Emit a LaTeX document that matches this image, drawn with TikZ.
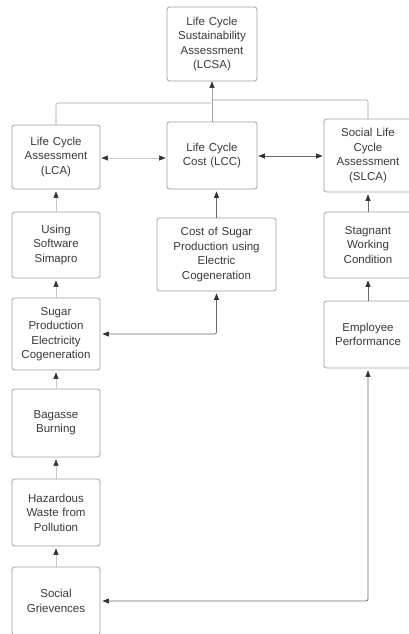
\documentclass[tikz,border=0pt]{standalone}
\usepackage{fontspec}
\setmainfont{Liberation Sans}
\usetikzlibrary{arrows.meta}
\definecolor{boxline}{HTML}{A0A0A0}
\definecolor{txt}{HTML}{3A3A3A}
\definecolor{conn}{HTML}{6A6A6A}
\definecolor{faint}{HTML}{C8C8C8}
\definecolor{tip}{HTML}{333333}
\begin{document}
\begin{tikzpicture}[x=1pt,y=-1pt,
  box/.style={draw=boxline, line width=0.8pt, rounded corners=2.5pt, fill=white,
    text=txt, align=center, inner sep=2pt,
    font=\fontsize{11.5}{14.4}\selectfont},
  hd/.style={-{Triangle[length=6.5pt,width=5pt,color=tip]}},
  dhd/.style={{Triangle[length=6.5pt,width=5pt,color=tip]}-{Triangle[length=6.5pt,width=5pt,color=tip]}},
  link/.style={draw=conn, line width=0.7pt, rounded corners=2pt},
  lite/.style={draw=faint, line width=0.6pt},
]
\useasboundingbox (0,0) rectangle (409,634);
\begin{scope}
\clip (0,0) rectangle (409,634);
\node[box, minimum width=90pt, minimum height=74pt, text width=86pt] (lcsa) at (212,44) {Life Cycle\\Sustainability\\Assessment\\(LCSA)};
\node[box, minimum width=88pt, minimum height=64pt, text width=84pt] (lca) at (56,157) {Life Cycle\\Assessment\\(LCA)};
\node[box, minimum width=90pt, minimum height=67pt, text width=86pt] (lcc) at (212,155.5) {Life Cycle\\Cost (LCC)};
\node[box, minimum width=88pt, minimum height=73pt, text width=84pt] (slca) at (368,155.5) {Social Life\\Cycle\\Assessment\\(SLCA)};
\node[box, minimum width=88pt, minimum height=66pt, text width=84pt] (sim) at (56,245) {Using\\Software\\Simapro};
\node[box, minimum width=119pt, minimum height=73pt, text width=115pt] (cost) at (216.5,254.5) {Cost of Sugar\\Production using\\Electric\\Cogeneration};
\node[box, minimum width=88pt, minimum height=66pt, text width=84pt] (stag) at (368,245) {Stagnant\\Working\\Condition};
\node[box, minimum width=88pt, minimum height=72pt, text width=84pt] (sugar) at (56,334) {Sugar\\Production\\Electricity\\Cogeneration};
\node[box, minimum width=88pt, minimum height=67pt, text width=84pt] (emp) at (368,334.5) {Employee\\Performance};
\node[box, minimum width=88pt, minimum height=68pt, text width=84pt] (bag) at (56,423) {Bagasse\\Burning};
\node[box, minimum width=88pt, minimum height=67pt, text width=84pt] (haz) at (56,512.5) {Hazardous\\Waste from\\Pollution};
\node[box, minimum width=88pt, minimum height=68pt, text width=84pt] (soc) at (56,601) {Social\\Grievences};

\coordinate (jl) at (211,103);
\coordinate (jr) at (212,100);
\draw[lite, draw=boxline, rounded corners=2pt] (lca.north) |- (jl);
\draw[lite, draw=boxline, rounded corners=2pt] (slca.north) |- (jr);
\draw[lite, draw=boxline] (lcc.north) -- (jr);
\draw[lite, draw=boxline, hd] (jr) -- (lcsa.south);

\draw[lite, dhd, shorten <=1pt, shorten >=1pt] (lca.east |- 0,158) -- (lcc.west |- 0,158);
\draw[link, dhd, shorten <=1pt, shorten >=1pt] (lcc.east |- 0,156) -- (slca.west |- 0,156);

\draw[lite, hd, shorten >=2pt] (sim.north) -- (lca.south);
\draw[lite, hd, shorten >=2pt] (sugar.north) -- (sim.south);
\draw[lite, hd, shorten >=2pt] (bag.north) -- (sugar.south);
\draw[lite, hd, shorten >=2pt] (haz.north) -- (bag.south);
\draw[lite, hd, shorten >=2pt] (soc.north) -- (haz.south);

\draw[link, hd, shorten >=2pt] (cost.north) -- (cost.north |- lcc.south);
\draw[link, dhd, shorten <=2pt, shorten >=2pt] (cost.south) |- (sugar.east);

\draw[link, hd, shorten >=2pt] (stag.north) -- (slca.south);
\draw[link, hd, shorten >=2pt] (emp.north) -- (stag.south);
\draw[link, dhd, shorten <=2pt, shorten >=2pt] (emp.south) |- (soc.east);
\end{scope}
\end{tikzpicture}
\end{document}
